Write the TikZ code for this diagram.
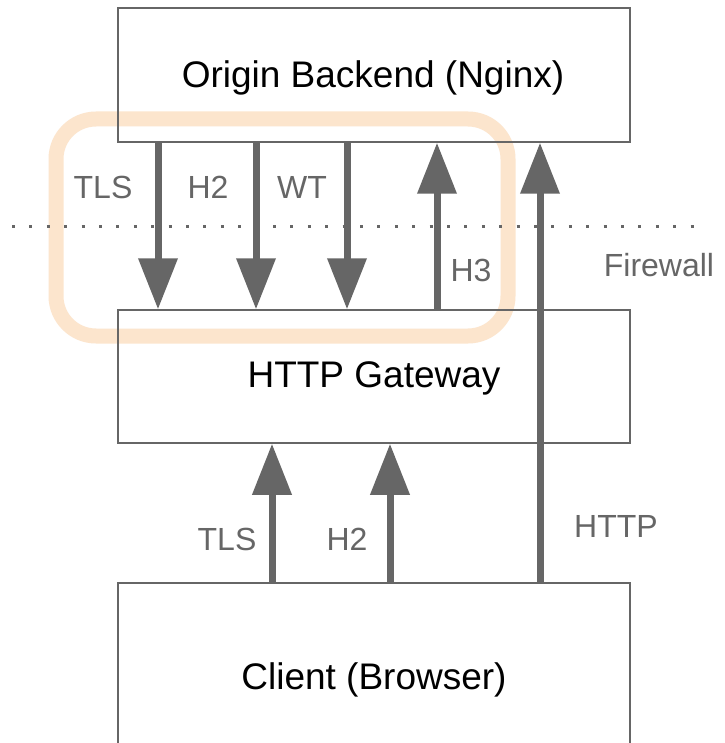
\documentclass[tikz,border=0pt]{standalone}
\usepackage{fontspec}
\setmainfont{Liberation Sans}
\usetikzlibrary{arrows.meta}
\definecolor{linegray}{HTML}{666666}
\definecolor{peach}{HTML}{FCE5CD}
\begin{document}
\begin{tikzpicture}[x=1pt,y=-1pt,
  box/.style={draw=linegray,line width=1.5pt,minimum width=512pt,inner sep=0pt},
  boxtext/.style={font=\fontsize{37}{42}\selectfont,text=black,inner sep=0pt},
  lbl/.style={font=\fontsize{32}{36}\selectfont,text=linegray,inner sep=0pt},
  flow/.style={draw=linegray,line width=7pt,-{Triangle[length=51pt,width=38pt]}},
  fw/.style={draw=linegray,line width=3pt,dash pattern=on 3pt off 14.4pt}]
\clip (0,0) rectangle (724,743);
\fill[white] (0,0) rectangle (724,743);
% highlight
\draw[peach,line width=15pt,rounded corners=40pt] (56,119) rectangle (508,336);
% firewall
\coordinate (fwl) at (12,226);
\coordinate (fwr) at (706,226);
\draw[fw] (fwl) -- (fwr);
% boxes
\node[box,minimum height=134pt] (origin) at (374,75) {};
\node[boxtext] (origint) at (373,78) {Origin Backend (Nginx)};
\node[box,minimum height=133pt] (gw) at (374,376.5) {};
\node[boxtext] (gwt) at (374,378) {HTTP Gateway};
\node[box,minimum height=194pt] (client) at (374,680) {};
\node[boxtext] (clientt) at (374,680) {Client (Browser)};
% arrows top
\draw[flow] (origin.south -| 158,0) -- (gw.north -| 158,0);
\draw[flow] (origin.south -| 256,0) -- (gw.north -| 256,0);
\draw[flow] (origin.south -| 347,0) -- (gw.north -| 347,0);
\draw[flow] (gw.north -| 437,0) -- (origin.south -| 437,0);
\draw[flow] (client.north -| 540,0) -- (origin.south -| 540,0);
% arrows bottom
\draw[flow] (client.north -| 272,0) -- (gw.south -| 272,0);
\draw[flow] (client.north -| 390,0) -- (gw.south -| 390,0);
% labels
\node[lbl] (l1) at (103,187) {TLS};
\node[lbl] (l2) at (208,187) {H2};
\node[lbl] (l3) at (302,187) {WT};
\node[lbl] (l4) at (471,270) {H3};
\node[lbl] (l5) at (659,265) {Firewall};
\node[lbl] (l6) at (227,539) {TLS};
\node[lbl] (l7) at (347,539) {H2};
\node[lbl] (l8) at (616,526) {HTTP};
\end{tikzpicture}
\end{document}
